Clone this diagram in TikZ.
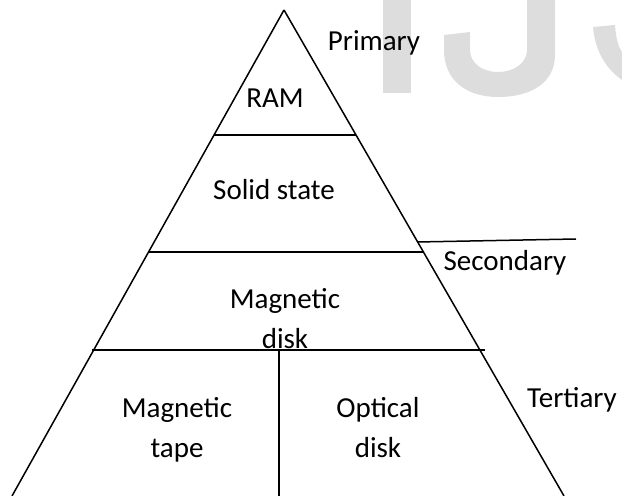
\documentclass[tikz,border=0pt]{standalone}
\usepackage{fontspec}
\setmainfont{Carlito}

\definecolor{wmark}{RGB}{221,221,221}

\begin{document}
\begin{tikzpicture}[x=0.5pt,y=-0.5pt,
                    tier line/.style={draw,line width=0.75pt},
                    tier label/.style={font=\fontsize{14.5}{20}\selectfont,align=center,anchor=base}]
  \useasboundingbox (0,0) rectangle (622,496);
  \clip (0,0) rectangle (622,496);

  %watermark%
  \fill[wmark] (383,-5) rectangle (411,93);
  \fill[wmark] (527,-5) -- (555,-5) -- (555,55)
    .. controls (555,82) and (532,97) .. (498,97)
    .. controls (466,97) and (444,80) .. (444,50)
    -- (444,35) -- (470,32) -- (470,50)
    .. controls (470,63) and (482,72) .. (498,72)
    .. controls (514,72) and (527,63) .. (527,50) -- cycle;
  \fill[wmark] (593,27) -- (615,25)
    .. controls (616,40) and (619,48) .. (622,52) -- (624,52) -- (624,82) -- (622,80)
    .. controls (605,68) and (595,50) .. (593,27) -- cycle;

  %pyramid%
  \coordinate (top) at (284,10);
  \coordinate (bl) at (12,496);
  \coordinate (br) at (564,496);
  \coordinate (ram l) at (214,135);
  \coordinate (ram r) at (356,135);
  \coordinate (ssd l) at (148,252);
  \coordinate (ssd r) at (423,252);
  \coordinate (hdd l) at (92,350);
  \coordinate (hdd r) at (485,350);
  \coordinate (split t) at (279,350);
  \coordinate (split b) at (279,497);
  \coordinate (sec l) at (417,242);
  \coordinate (sec r) at (576,239);

  \path[tier line]
    (top) edge (bl)
          edge (br)
    (ram l) edge (ram r)
    (ssd l) edge (ssd r)
    (hdd l) edge (hdd r)
    (split t) edge (split b)
    (sec l) edge (sec r);

  %labels (base = last line)%
  \node[tier label] (ram) at (275,108) {RAM};
  \node[tier label] (ssd) at (274,200) {Solid state};
  \node[tier label] (hdd) at (285,349) {Magnetic\\disk};
  \node[tier label] (tape) at (177,458) {Magnetic\\tape};
  \node[tier label] (optical) at (378,458) {Optical\\disk};
  \node[tier label] (primary) at (374,51) {Primary};
  \node[tier label] (secondary) at (505,271) {Secondary};
  \node[tier label] (tertiary) at (572,408) {Tertiary};
\end{tikzpicture}
\end{document}
